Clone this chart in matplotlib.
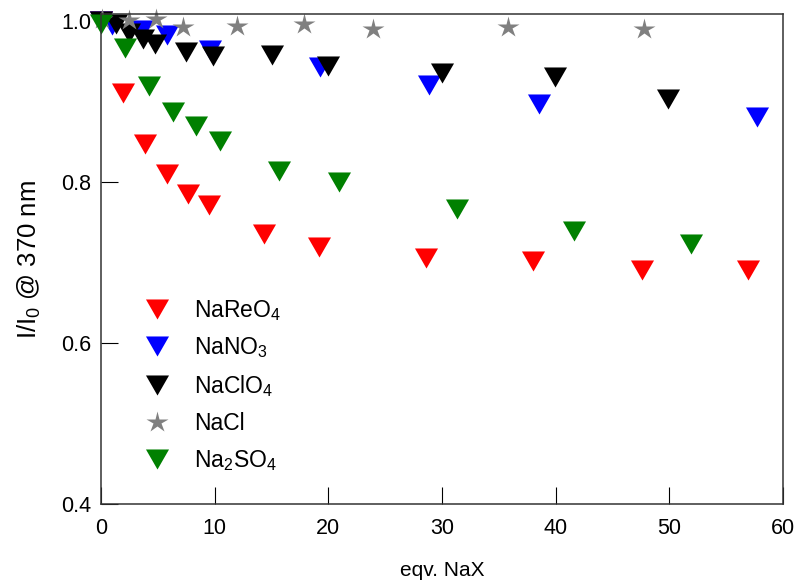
import matplotlib
matplotlib.use("Agg")
import matplotlib.pyplot as plt

plt.rcParams['font.family'] = ['Liberation Sans', 'DejaVu Sans']
plt.rcParams['mathtext.fontset'] = 'custom'
plt.rcParams['mathtext.rm'] = 'Liberation Sans'
plt.rcParams['mathtext.it'] = 'Liberation Sans:italic'
plt.rcParams['mathtext.bf'] = 'Liberation Sans:bold'

# ---- data ----
nareo4_x = [0, 1.96, 3.87, 5.78, 7.68, 9.53, 14.3, 19.2, 28.6, 38.0, 47.6, 56.9]
nareo4_y = [1.0, 0.911, 0.847, 0.810, 0.785, 0.771, 0.736, 0.719, 0.706, 0.702, 0.691, 0.691]

nano3_x = [0, 1.0, 3.6, 5.8, 9.6, 19.3, 28.85, 38.5, 57.7]
nano3_y = [1.0, 0.995, 0.989, 0.982, 0.964, 0.943, 0.9205, 0.897, 0.881]

naclo4_x = [0, 1.3, 2.5, 3.7, 4.75, 7.45, 9.85, 15.0, 20.0, 29.96, 39.9, 49.9]
naclo4_y = [1.0, 0.996, 0.985, 0.978, 0.972, 0.961, 0.957, 0.958, 0.944, 0.936, 0.931, 0.9035]

nacl_x = [0.1, 2.5, 4.8, 7.2, 12.0, 17.9, 23.9, 35.8, 47.8]
nacl_y = [1.003, 1.001, 1.003, 0.992, 0.994, 0.996, 0.990, 0.993, 0.990]

na2so4_x = [0, 2.1, 4.22, 6.3, 8.36, 10.44, 15.7, 20.9, 31.3, 41.6, 51.9]
na2so4_y = [0.996, 0.967, 0.919, 0.887, 0.869, 0.851, 0.814, 0.800, 0.767, 0.739, 0.723]

labels = [r'NaReO$_4$', r'NaNO$_3$', r'NaClO$_4$', 'NaCl', r'Na$_2$SO$_4$']
colors = ['#ff0000', '#0000ff', '#000000', '#808080', '#008000']

x_ticks = [0, 10, 20, 30, 40, 50, 60]
y_ticks = [0.4, 0.6, 0.8, 1.0]

tri = [(-1, 0.87), (1, 0.87), (0, -0.87)]

fig = plt.figure(figsize=(7.95, 5.81), dpi=100)
ax = fig.add_axes([101/795, 1-504/581, 682/795, 490/581])

series = [(nareo4_x, nareo4_y, tri, 16.6),
          (nano3_x, nano3_y, tri, 16.6),
          (naclo4_x, naclo4_y, tri, 16.6),
          (nacl_x, nacl_y, '*', 16),
          (na2so4_x, na2so4_y, tri, 16.6)]

for (xs, ys, m, ms), lab, c in zip(series, labels, colors):
    ax.plot(xs, ys, linestyle='none', marker=m, markersize=ms,
            markerfacecolor=c, markeredgecolor='none', color=c,
            label=lab, clip_on=False)

ax.set_xlim(0, 60)
ax.set_ylim(0.4, 1.0087)
ax.set_xticks(x_ticks)
ax.set_yticks(y_ticks)
ax.set_xticklabels([str(t) for t in x_ticks])
ax.set_yticklabels([f'{t:.1f}' for t in y_ticks])

for s in ax.spines.values():
    s.set_color('#333333')
    s.set_linewidth(1.1)

ax.tick_params(axis='x', direction='in', length=12, width=0.8, pad=10,
               labelsize=15.5, colors='#000000')
ax.tick_params(axis='y', direction='in', length=12, width=0.8, pad=7,
               labelsize=15.5, colors='#000000')

ax.set_xlabel('eqv. NaX', fontsize=15, labelpad=16)
ax.set_ylabel(r'I/I$_0$ @ 370 nm', fontsize=18.5, labelpad=13)

ax.legend(loc='upper left', bbox_to_anchor=(0.0578, 0.421), frameon=False,
          fontsize=16.5, handlelength=1.45, handletextpad=0.9,
          labelspacing=0.56, borderpad=0, borderaxespad=0, numpoints=1)

fig.savefig('out.png', dpi=100)
